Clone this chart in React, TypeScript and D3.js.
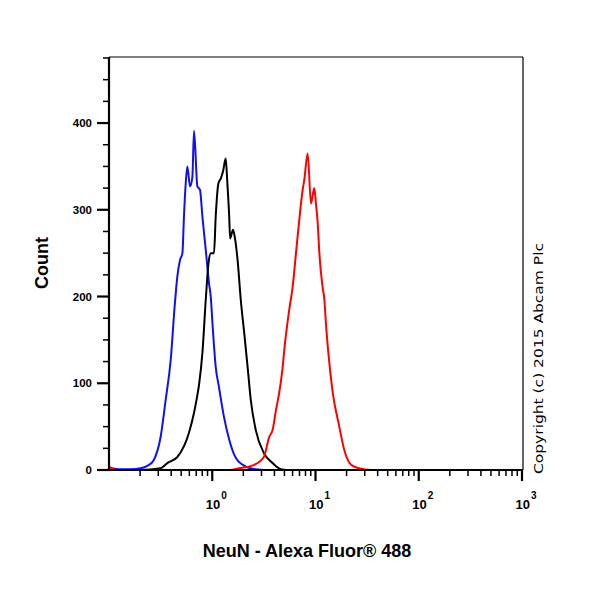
import * as d3 from 'd3';
import * as React from 'react';

const WIDTH = 600;
const HEIGHT = 600;

// fluorescence intensity (linear units) and event counts
const blueX = [0.1, 0.124, 0.162, 0.202, 0.237, 0.27, 0.316, 0.354, 0.396, 0.432, 0.459, 0.487, 0.514, 0.532, 0.553, 0.574, 0.609, 0.642, 0.666, 0.718, 0.761, 0.803, 0.865, 0.931, 0.967, 1.01, 1.08, 1.16, 1.3, 1.46, 1.69, 2.11, 2.64, 3.7, 1000];
const blueY = [3, 1, 1, 2, 5, 11, 38, 81, 127, 188, 223, 242, 250, 292, 330, 350, 327, 338, 391, 327, 323, 292, 254, 215, 200, 165, 119, 96, 61, 35, 14, 4, 1, 0, 0];

const blackX = [0.1, 0.202, 0.316, 0.367, 0.459, 0.595, 0.666, 0.707, 0.744, 0.803, 0.865, 0.919, 0.967, 1.04, 1.08, 1.15, 1.21, 1.28, 1.35, 1.4, 1.46, 1.49, 1.59, 1.66, 1.76, 1.89, 2.04, 2.2, 2.36, 2.64, 3.18, 3.84, 4.62, 5.78, 1000];
const blackY = [0, 0, 2, 8, 15, 43, 66, 82, 98, 135, 196, 238, 250, 250, 292, 331, 336, 346, 359, 331, 292, 267, 277, 267, 242, 196, 158, 119, 81, 46, 19, 8, 1, 0, 0];

const redX = [0.1, 0.11, 0.13, 1.5, 1.81, 2.55, 3.16, 3.56, 3.84, 4.14, 4.45, 4.81, 4.98, 5.57, 6.01, 6.47, 6.96, 7.51, 7.78, 8.4, 9.04, 9.73, 10.1, 10.5, 10.9, 11.7, 12.2, 12.6, 13.2, 14.7, 17.0, 19.0, 22.1, 26.4, 34.6, 1000];
const redY = [4, 1, 0, 0, 2, 6, 15, 38, 46, 69, 89, 119, 138, 185, 211, 250, 288, 323, 334, 365, 307, 325, 307, 285, 250, 211, 196, 170, 140, 89, 50, 23, 6, 2, 0, 0];

const yMajor = [0, 100, 200, 300, 400];
const xMajor = [1, 10, 100, 1000];
const xExponents = ['0', '1', '2', '3'];

const FONT = '"Liberation Sans", Arial, sans-serif';

const left = 109;
const right = 522;
const top = 57;
const bottom = 470;

export default function App() {
  const x = d3.scaleLog().domain([0.1, 1000]).range([left, right]);
  const y = d3.scaleLinear().domain([0, 475]).range([bottom, top + 1]);

  const line = d3
    .line<[number, number]>()
    .x(d => x(d[0]))
    .y(d => y(d[1]))
    .curve(d3.curveMonotoneX);

  const series = [
    { xs: blueX, ys: blueY, color: '#1010f0' },
    { xs: blackX, ys: blackY, color: '#000000' },
    { xs: redX, ys: redY, color: '#ff0000' },
  ];

  const yMinor = d3.range(25, 476, 25).filter(v => v % 100 !== 0);
  const xMinor: number[] = [];
  [-1, 0, 1, 2].forEach(p => {
    for (let k = 2; k <= 9; k++) xMinor.push(k * Math.pow(10, p));
  });

  return (
    <svg
      width={WIDTH}
      height={HEIGHT}
      style={{ position: 'absolute', left: 0, top: 0, background: '#fff' }}
    >
      {/* thin frame on top and right */}
      <line x1={left} x2={right + 1} y1={top} y2={top} stroke="#000" strokeWidth={1.2} />
      <line x1={right + 1} x2={right + 1} y1={top} y2={bottom} stroke="#000" strokeWidth={1.2} />

      {series.map((s, i) => (
        <path
          key={i}
          d={line(s.xs.map((v, j) => [v, s.ys[j]] as [number, number])) || ''}
          fill="none"
          stroke={s.color}
          strokeWidth={2}
          strokeLinejoin="round"
        />
      ))}

      {/* y axis */}
      <line x1={left} x2={left} y1={top} y2={bottom + 1} stroke="#000" strokeWidth={2.2} />
      {yMinor.map(v => (
        <line key={v} x1={left - 6} x2={left} y1={y(v)} y2={y(v)} stroke="#000" strokeWidth={1.5} />
      ))}
      {yMajor.map(v => (
        <g key={v}>
          <line x1={left - 12} x2={left} y1={y(v)} y2={y(v)} stroke="#000" strokeWidth={2.2} />
          <text
            x={left - 17}
            y={y(v)}
            dy="0.35em"
            textAnchor="end"
            fontFamily={FONT}
            fontWeight="bold"
            fontSize={11.5}
          >
            {v}
          </text>
        </g>
      ))}

      {/* x axis */}
      <line x1={left - 1} x2={right + 1} y1={bottom} y2={bottom} stroke="#000" strokeWidth={2.2} />
      {xMinor.map(v => (
        <line key={v} x1={x(v)} x2={x(v)} y1={bottom} y2={bottom + 6} stroke="#000" strokeWidth={1.5} />
      ))}
      {xMajor.map((v, i) => (
        <g key={v}>
          <line x1={x(v)} x2={x(v)} y1={bottom} y2={bottom + 11} stroke="#000" strokeWidth={2.2} />
          <text
            x={x(v) + 8}
            y={509}
            textAnchor="end"
            fontFamily={FONT}
            fontWeight="bold"
            fontSize={13}
          >
            10
          </text>
          <text
            x={x(v) + 9}
            y={499}
            fontFamily={FONT}
            fontWeight="bold"
            fontSize={10}
          >
            {xExponents[i]}
          </text>
        </g>
      ))}

      {/* titles */}
      <text
        transform="translate(48,263) rotate(-90)"
        textAnchor="middle"
        fontFamily={FONT}
        fontWeight="bold"
        fontSize={18}
      >
        Count
      </text>
      <text
        x={307}
        y={557}
        textAnchor="middle"
        fontFamily={FONT}
        fontWeight="bold"
        fontSize={18}
      >
        NeuN - Alexa Fluor® 488
      </text>
      <text
        transform="translate(543,474) rotate(-90)"
        fontFamily='"DejaVu Sans", sans-serif'
        fontSize={13}
        textLength={231}
        lengthAdjust="spacingAndGlyphs"
      >
        Copyright (c) 2015 Abcam Plc
      </text>
    </svg>
  );
}
